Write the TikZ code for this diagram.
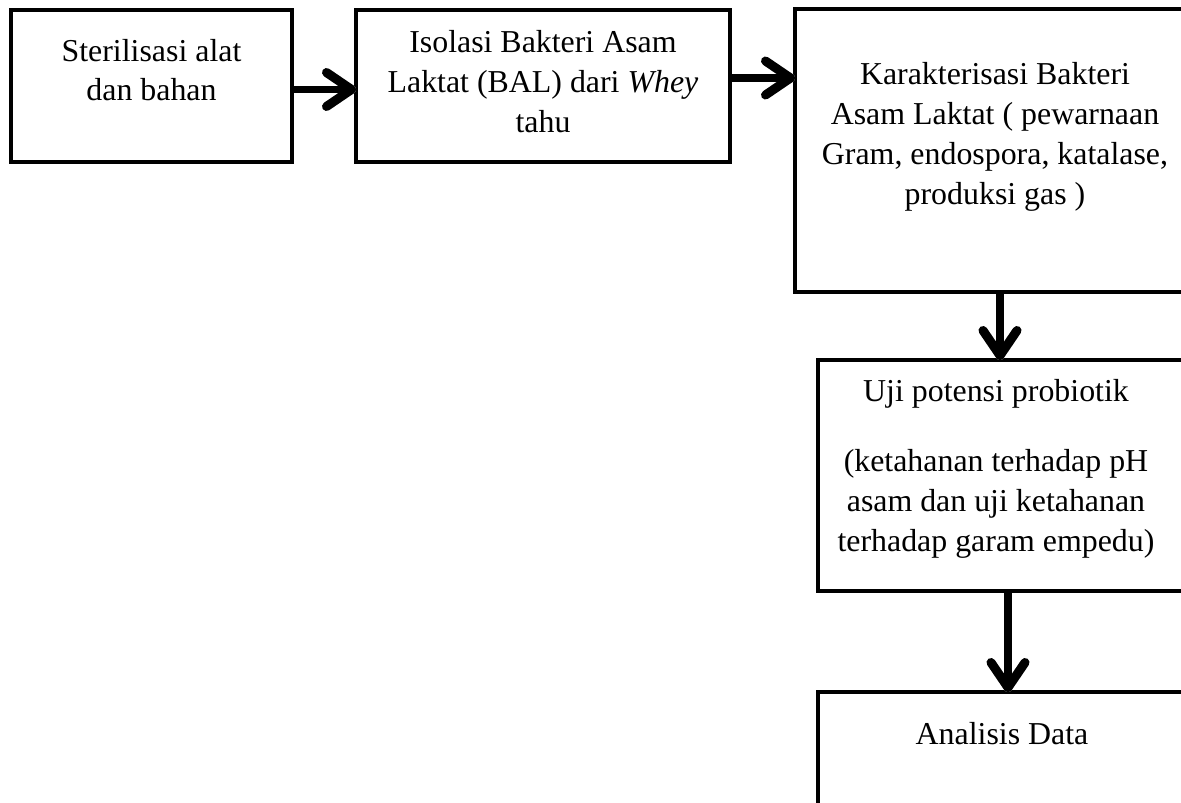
\documentclass[tikz,border=0pt]{standalone}
\usepackage{fontspec}
\setmainfont{Liberation Serif}
\usetikzlibrary{arrows.meta}
\begin{document}
\begin{tikzpicture}[x=1bp,y=-1bp,
  box/.style={draw=black, line width=4.5bp, inner sep=0pt, outer sep=0pt, rectangle, fill=white},
  txt/.style={font=\fontsize{32}{40}\selectfont, align=center, inner sep=0pt, anchor=base},
  arr/.style={line width=7.5bp, -{Straight Barb[length=25bp,width=34bp,line width=9bp,round]}},
  shade/.style={arr, draw=black!14, shift={(2.5bp,-3bp)}}]
\useasboundingbox (0,0) rectangle (1181,803);
\clip (0,0) rectangle (1181,803);
\node[box, minimum width=281bp, minimum height=152bp] (b1) at (151.5,86) {};
\node[box, minimum width=374bp, minimum height=152bp] (b2) at (543,86) {};
\node[box, minimum width=400bp, minimum height=283bp] (b3) at (995,150.5) {};
\node[box, minimum width=372bp, minimum height=231bp] (b4) at (1004,475.5) {};
\node[box, minimum width=372bp, minimum height=168bp] (b5) at (1004,776) {};
\node[txt] (t1) at (151.5,101) {Sterilisasi alat\\dan bahan};
\node[txt] (t2) at (543,132) {Isolasi Bakteri Asam\\Laktat (BAL) dari \textit{Whey}\\tahu};
\node[txt] (t3) at (995,204) {Karakterisasi Bakteri\\Asam Laktat ( pewarnaan\\Gram, endospora, katalase,\\produksi gas )};
\node[txt] (t4) at (996,551) {Uji potensi probiotik\\[30bp](ketahanan terhadap pH\\asam dan uji ketahanan\\terhadap garam empedu)};
\node[txt] (t5) at (1002,744) {Analisis Data};
\coordinate (a1s) at ([yshift=-3.5bp]b1.east);
\coordinate (a2s) at ([yshift=8bp]b2.east);
\coordinate (a3s) at ([xshift=5bp]b3.south);
\coordinate (a4s) at ([xshift=4bp]b4.south);
\draw[shade] (a1s) -- (a1s -| b2.west);
\draw[shade] (a2s) -- (a2s -| b3.west);
\draw[shade] (a3s) -- (a3s |- b4.north);
\draw[shade] (a4s) -- (a4s |- b5.north);
\draw[arr] (a1s) -- (a1s -| b2.west);
\draw[arr] (a2s) -- (a2s -| b3.west);
\draw[arr] (a3s) -- (a3s |- b4.north);
\draw[arr] (a4s) -- (a4s |- b5.north);
\end{tikzpicture}
\end{document}
